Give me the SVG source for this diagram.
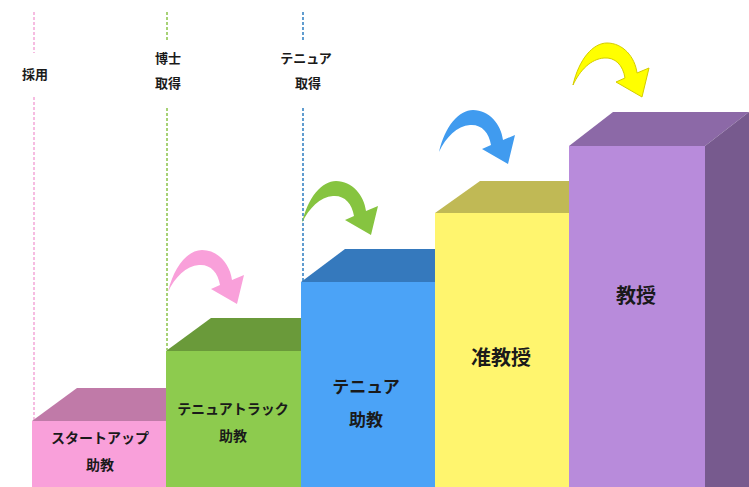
<svg xmlns="http://www.w3.org/2000/svg" width="749" height="487" viewBox="0 0 749 487">
<style>
.lbl{font-family:"Noto Sans CJK JP","Noto Sans",sans-serif;font-weight:bold;fill:#1a1a1a;text-anchor:middle}
.ms{font-size:13px}
.s{font-size:14px}
.m{font-size:17px}
.l{font-size:20px}
.dash{fill:none;stroke-width:1.5;stroke-dasharray:3,2}
</style>
<defs>
<path id="carrow" d="M0,0 C6,-26 20,-42 34,-42 C50,-42 62,-28 64,-12 L76,-17 L69,12 L43,-3 L52,-7 C50,-20 42,-28 31,-27 C18,-26 7,-15 0,0 Z"/>
</defs>
<rect width="749" height="487" fill="#ffffff"/>
<g id="connectors">
<line class="dash" x1="34" y1="12" x2="34" y2="53" stroke="#F4A6D8"/>
<line class="dash" x1="34" y1="97" x2="34" y2="421" stroke="#F4A6D8"/>
<line class="dash" x1="167" y1="12" x2="167" y2="41" stroke="#8BC34A"/>
<line class="dash" x1="167" y1="108" x2="167" y2="350" stroke="#8BC34A"/>
<line class="dash" x1="303" y1="12" x2="303" y2="42" stroke="#2D7CC0"/>
<line class="dash" x1="303" y1="108" x2="303" y2="282" stroke="#2D7CC0"/>
<use href="#carrow" transform="translate(168,292)" fill="#F9A0DA"/>
<use href="#carrow" transform="translate(302,223)" fill="#86C440"/>
<use href="#carrow" transform="translate(439,152)" fill="#409BEF"/>
<use href="#carrow" transform="translate(573,85)" fill="#FFFF00" stroke="#D4CC00" stroke-width="1"/>
</g>
<g id="label-saiyo"><text class="lbl ms" x="35" y="79">採用</text></g>
<g id="label-hakase"><text class="lbl ms" x="168" y="63">博士</text><text class="lbl ms" x="168" y="88">取得</text></g>
<g id="label-tenure"><text class="lbl ms" x="306" y="63">テニュア</text><text class="lbl ms" x="308" y="88">取得</text></g>
<g id="startup">
<polygon points="32,421 77,388 166,388 166,421" fill="#C07AA8"/>
<rect x="32" y="421" width="134" height="66" fill="#F9A0DA"/>
<text class="lbl s" x="100" y="443">スタートアップ</text>
<text class="lbl s" x="100" y="470">助教</text>
</g>
<g id="tenure-track">
<polygon points="166,351 211,318 301,318 301,351" fill="#6A9A3A"/>
<rect x="166" y="351" width="135" height="136" fill="#8DCB4E"/>
<text class="lbl s" x="233" y="414">テニュアトラック</text>
<text class="lbl s" x="233" y="441">助教</text>
</g>
<g id="tenure">
<polygon points="301,282 345,249 435,249 435,282" fill="#3579BD"/>
<rect x="301" y="282" width="134" height="205" fill="#4BA3F7"/>
<text class="lbl m" x="366" y="393">テニュア</text>
<text class="lbl m" x="366" y="426">助教</text>
</g>
<g id="associate">
<polygon points="435,213 480,181 569,181 569,213" fill="#C0B955"/>
<rect x="435" y="213" width="134" height="274" fill="#FFF56E"/>
<text class="lbl l" x="501" y="365">准教授</text>
</g>
<g id="professor">
<polygon points="569,146 613,112 749,112 705,146" fill="#8C69A7"/>
<polygon points="705,146 749,112 749,487 705,487" fill="#775A8E"/>
<rect x="569" y="146" width="136" height="341" fill="#B88BDB"/>
<text class="lbl l" x="636" y="303">教授</text>
</g>
</svg>
